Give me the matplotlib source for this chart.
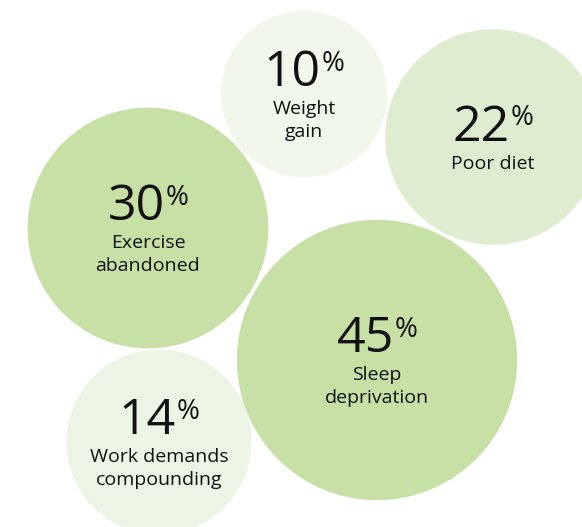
import numpy as np
import matplotlib
matplotlib.use("Agg")
import matplotlib.pyplot as plt
from matplotlib.patches import Circle

# Data
labels = ["Sleep\ndeprivation", "Exercise\nabandoned", "Poor diet",
          "Work demands\ncompounding", "Weight\ngain"]
values = [45, 30, 22, 14, 10]

# Packed layout (pixel space, y downward) and fills
centers_x = [377, 148, 493, 159, 304]
centers_y = [360, 228, 137, 442, 94]
fills = ["#c6e0a6", "#c6e0a6", "#deedd0", "#ecf5e4", "#f1f8eb"]

W, H, DPI = 582, 527, 100
fig = plt.figure(figsize=(W / DPI, H / DPI), dpi=DPI)
ax = fig.add_axes([0, 0, 1, 1])
ax.set_xlim(0, W)
ax.set_ylim(H, 0)
ax.set_aspect("equal")
ax.axis("off")


def radius(v):
    # sqrt-based size scale with an offset
    return 33.2 + 16.07 * np.sqrt(v) - 0.8


FONT = "Open Sans"
NUM_PT = 36
PCT_PT = 20
LAB_PT = 14
px = DPI / 72.0
num_h = 0.714 * NUM_PT * px    # digit height in pixels
gap = 28                        # number baseline -> first label baseline
line = 23                       # label line spacing
ink = "#111111"

renderer = fig.canvas.get_renderer()

for v, lab, cx, cy, fc in zip(values, labels, centers_x, centers_y, fills):
    ax.add_patch(Circle((cx, cy), radius(v), facecolor=fc, edgecolor="none"))
    lines = lab.split("\n")
    block = num_h + gap + line * (len(lines) - 1)
    top = cy - block / 2
    base = top + num_h

    num = ax.text(cx, base, f"{v}", fontsize=NUM_PT, family=FONT,
                  weight="medium", color=ink, ha="left", va="baseline")
    pct = ax.text(cx, top, "%", fontsize=PCT_PT, family=FONT,
                  weight="medium", color=ink, ha="left", va="top")
    wn = num.get_window_extent(renderer).width
    wp = pct.get_window_extent(renderer).width
    total = wn + wp + 1
    x0 = cx - total / 2
    num.set_x(x0)
    pct.set_x(x0 + wn + 1)
    pct.set_y(top - 1)

    for k, ln in enumerate(lines):
        ax.text(cx, base + gap + line * k, ln, fontsize=LAB_PT, family=FONT,
                color=ink, ha="center", va="baseline")

fig.savefig("out.png", dpi=DPI, facecolor="white")
